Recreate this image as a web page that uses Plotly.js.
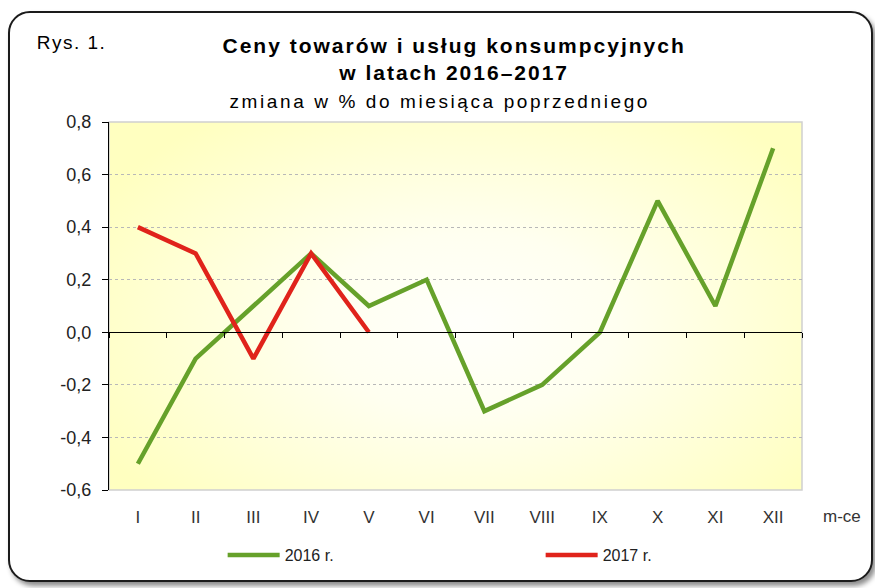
<!DOCTYPE html>
<html>
<head>
<meta charset="utf-8">
<script src="https://cdn.plot.ly/plotly-3.0.1.min.js"></script>
<style>
  html, body { margin: 0; padding: 0; background: #ffffff; }
  #wrap { position: relative; width: 875px; height: 588px; overflow: hidden; background: #fff; }
  #frame { position: absolute; left: 8px; top: 11px; width: 861px; height: 567px;
           border: 2px solid #1b1b1b; border-radius: 22px;
           box-shadow: 3px 4px 5px rgba(0,0,0,0.45); background: #fff; }
  #chart { position: absolute; left: 0; top: 0; width: 875px; height: 588px; }
</style>
</head>
<body>
<div id="wrap">
  <div id="frame"></div>
  <div id="chart"></div>
</div>
<script>
const months = ['I','II','III','IV','V','VI','VII','VIII','IX','X','XI','XII'];
const values2016 = [-0.5, -0.1, 0.1, 0.3, 0.1, 0.2, -0.3, -0.2, 0.0, 0.5, 0.1, 0.7];
const months2017 = ['I','II','III','IV','V'];
const values2017 = [0.4, 0.3, -0.1, 0.3, 0.0];
const yTicks = [-0.6, -0.4, -0.2, 0.0, 0.2, 0.4, 0.6, 0.8];
const yTickLabels = ['-0,6','-0,4','-0,2','0,0','0,2','0,4','0,6','0,8'];

function makeBg() {
  const c = document.createElement('canvas');
  c.width = 693; c.height = 368;
  const ctx = c.getContext('2d');
  ctx.save();
  ctx.translate(c.width * 0.52, c.height * 0.55);
  ctx.scale(1.0, 0.62);
  const g = ctx.createRadialGradient(0, 0, 0, 0, 0, 420);
  g.addColorStop(0, '#fffffb');
  g.addColorStop(0.35, '#fffff0');
  g.addColorStop(1, '#ffffc0');
  ctx.fillStyle = g;
  ctx.fillRect(-1000, -1000, 2000, 2000);
  ctx.restore();
  return c.toDataURL('image/png');
}

const FONT = 'Liberation Sans, Arial, sans-serif';

const traces = [
  { x: months, y: values2016, name: '2016 r.', type: 'scatter', mode: 'lines',
    line: { color: '#66a12a', width: 4.5 }, xaxis: 'x', yaxis: 'y' },
  { x: months2017, y: values2017, name: '2017 r.', type: 'scatter', mode: 'lines',
    line: { color: '#e0231b', width: 4.5 }, xaxis: 'x2', yaxis: 'y' }
];

const zeroPos = (0 - (-0.6)) / (0.8 - (-0.6));

const layout = {
  width: 875, height: 588,
  paper_bgcolor: 'rgba(0,0,0,0)',
  plot_bgcolor: 'rgba(0,0,0,0)',
  margin: { l: 109, r: 73, t: 122, b: 98 },
  font: { family: FONT, color: '#222', size: 15 },
  showlegend: true,
  title: { text: '<b>Ceny towarów i usług konsumpcyjnych</b><br><b>w latach 2016–2017</b>',
           xref: 'container', yref: 'container', x: 0.519, xanchor: 'center',
           y: 0.91, yanchor: 'middle',
           font: { family: FONT, size: 21, color: '#000' } },
  xaxis: {
    type: 'category', categoryorder: 'array', categoryarray: months,
    range: [-0.5, 11.5], showgrid: false, zeroline: false, showline: false,
    ticks: 'outside', ticklen: 12, tickcolor: 'rgba(0,0,0,0)',
    tickfont: { family: FONT, size: 17, color: '#333' }, fixedrange: true
  },
  xaxis2: {
    type: 'category', categoryorder: 'array', categoryarray: months,
    range: [-0.5, 11.5], overlaying: 'x', anchor: 'free', position: zeroPos,
    side: 'bottom', showgrid: false, zeroline: false, showline: true,
    linecolor: '#000', linewidth: 1, ticks: 'outside', tickson: 'boundaries',
    ticklen: 5, tickcolor: '#000', tickwidth: 1, showticklabels: false, fixedrange: true
  },
  yaxis: {
    range: [-0.6, 0.8], tickvals: yTicks, ticktext: yTickLabels,
    showline: true, linecolor: '#000', linewidth: 1,
    ticks: 'outside', ticklen: 6, tickcolor: '#000', ticklabelstandoff: 7,
    showgrid: true, gridcolor: '#b8b8b8', griddash: 'dot', gridwidth: 1,
    zeroline: false, tickfont: { family: FONT, size: 18, color: '#222' }, fixedrange: true
  },
  images: [{ source: makeBg(), xref: 'paper', yref: 'paper', x: 0, y: 1,
             sizex: 1, sizey: 1, sizing: 'stretch', layer: 'below' }],
  shapes: [{ type: 'rect', xref: 'paper', yref: 'paper', x0: 0, x1: 1, y0: 0, y1: 1,
             line: { color: '#d0d0d0', width: 1.5 }, layer: 'below' }],
  annotations: [
    { text: 'zmiana w % do miesiąca poprzedniego', xref: 'paper', yref: 'paper',
      x: 0.477, y: 1.057, xanchor: 'center', yanchor: 'middle', showarrow: false,
      font: { family: FONT, size: 19, color: '#000' } },
    { text: 'Rys. 1.', xref: 'paper', yref: 'paper', x: -0.0996, y: 1.217, xanchor: 'left',
      yanchor: 'middle', showarrow: false, font: { family: FONT, size: 19, color: '#000' } },
    { text: 'm-ce', xref: 'paper', yref: 'paper', x: 1.058, y: -0.0707, xanchor: 'center',
      yanchor: 'middle', showarrow: false, font: { family: FONT, size: 17, color: '#333' } }
  ],
  legend: { orientation: 'h', x: 0.164, xanchor: 'left', y: -0.177, yanchor: 'middle',
            bgcolor: 'rgba(0,0,0,0)', font: { family: FONT, size: 16, color: '#222' },
            entrywidth: 251, entrywidthmode: 'pixels', itemwidth: 52 }
};

function spacing() {
  const t = document.querySelector('.gtitle');
  if (t) t.style.letterSpacing = '2px';
  document.querySelectorAll('.annotation-text').forEach(function (el) {
    if (el.textContent.indexOf('zmiana') === 0) el.style.letterSpacing = '2.6px';
    if (el.textContent.indexOf('Rys') === 0) el.style.letterSpacing = '1.5px';
  });
}

Plotly.newPlot('chart', traces, layout, { displayModeBar: false, staticPlot: true }).then(spacing);
</script>
</body>
</html>
